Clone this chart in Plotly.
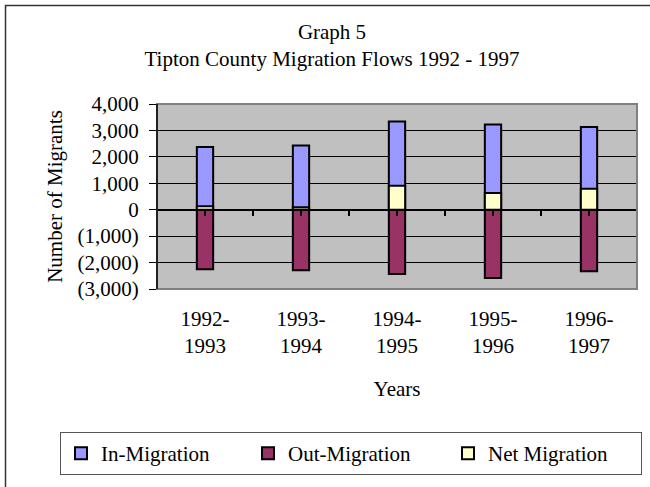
import plotly.graph_objects as go

# ---- data ----
categories = ["1992-<br>1993", "1993-<br>1994", "1994-<br>1995", "1995-<br>1996", "1996-<br>1997"]
in_migration = [2370, 2430, 3340, 3220, 3130]
out_migration = [-2250, -2290, -2430, -2580, -2330]
net_migration = [130, 90, 910, 630, 790]
y_tick_vals = [-3000, -2000, -1000, 0, 1000, 2000, 3000, 4000]
y_tick_text = ["(3,000)", "(2,000)", "(1,000)", "0", "1,000", "2,000", "3,000", "4,000"]
y_range = [-3000, 4000]

W, H = 650, 487
ML, MR, MT, MB = 157, 13, 104, 198
PW, PH = W - ML - MR, H - MT - MB
FONT = "Liberation Serif, Times New Roman, serif"
FS = 21

def px_to_paper_x(px):
    return (px - ML) / PW

def px_to_paper_y(py):
    return (H - MB - py) / PH

fig = go.Figure()
series = [
    ("In-Migration", in_migration, "#9999FF", 142),
    ("Out-Migration", out_migration, "#993366", 155),
    ("Net Migration", net_migration, "#FFFFCC", 148),
]
for name, vals, color, lw in series:
    fig.add_trace(go.Bar(
        x=categories, y=vals, name=name, width=0.17,
        marker=dict(color=color, line=dict(color="black", width=2)),
        legendwidth=lw,
    ))

n = len(categories)
half_ticks = [i * 0.5 - 0.5 for i in range(2 * n + 1)]
zero_pos = (0 - y_range[0]) / (y_range[1] - y_range[0])

# invisible helper so the category-axis tick marks along the zero line get drawn
fig.add_trace(go.Scatter(
    x=half_ticks, y=[0] * len(half_ticks), xaxis="x2", mode="markers",
    marker=dict(opacity=0, size=1), showlegend=False, hoverinfo="skip",
))

fig.update_layout(
    width=W, height=H,
    margin=dict(l=ML, r=MR, t=MT, b=MB, autoexpand=False),
    paper_bgcolor="white",
    plot_bgcolor="#C0C0C0",
    barmode="overlay",
    font=dict(family=FONT, size=FS, color="black"),
    title=dict(
        text="Graph 5<br>Tipton County Migration Flows 1992 - 1997",
        x=332 / W, xanchor="center", xref="container",
        y=1 - 39 / H, yanchor="top", yref="container",
        font=dict(family=FONT, size=FS, color="black"),
    ),
    xaxis=dict(
        type="category", showgrid=False, zeroline=False,
        showline=False, ticks="", ticklabelstandoff=15,
        tickfont=dict(family=FONT, size=FS),
        title=dict(text="Years", standoff=24, font=dict(family=FONT, size=FS)),
    ),
    xaxis2=dict(
        overlaying="x", anchor="free", position=zero_pos,
        range=[-0.5, n - 0.5], tickvals=half_ticks,
        ticks="outside", ticklen=5, tickwidth=2, tickcolor="black",
        showticklabels=False, showgrid=False, zeroline=False,
        showline=False,
    ),
    yaxis=dict(
        range=y_range, tickvals=y_tick_vals, ticktext=y_tick_text,
        showgrid=True, gridcolor="black", gridwidth=1,
        zeroline=True, zerolinecolor="black", zerolinewidth=2,
        showline=True, linecolor="black", linewidth=1,
        ticks="outside", ticklen=7, tickcolor="black", tickwidth=1,
        ticklabelstandoff=6,
        tickfont=dict(family=FONT, size=FS),
        title=dict(text="Number of Migrants", standoff=9, font=dict(family=FONT, size=FS)),
    ),
    legend=dict(
        orientation="h",
        x=px_to_paper_x(60), xanchor="left",
        y=px_to_paper_y(432), yanchor="top",
        bordercolor="#555555", borderwidth=1,
        bgcolor="white",
        font=dict(family=FONT, size=FS),
        traceorder="normal",
    ),
    shapes=[
        dict(type="rect", xref="paper", yref="paper", x0=0, y0=0, x1=1, y1=1,
             line=dict(color="#808080", width=2), layer="above"),
        dict(type="line", xref="paper", yref="paper", x0=0, y0=0, x1=0, y1=1,
             line=dict(color="black", width=1.5), layer="above"),
        dict(type="rect", xref="paper", yref="paper",
             x0=px_to_paper_x(5.5), y0=px_to_paper_y(5.5),
             x1=px_to_paper_x(W + 20), y1=px_to_paper_y(H + 20),
             line=dict(color="#333333", width=1.5), layer="below"),
    ],
)

fig.write_html(
    "out.html",
    config={"displayModeBar": False},
    post_script="document.body.style.margin='0px';document.documentElement.style.overflow='hidden';",
)
